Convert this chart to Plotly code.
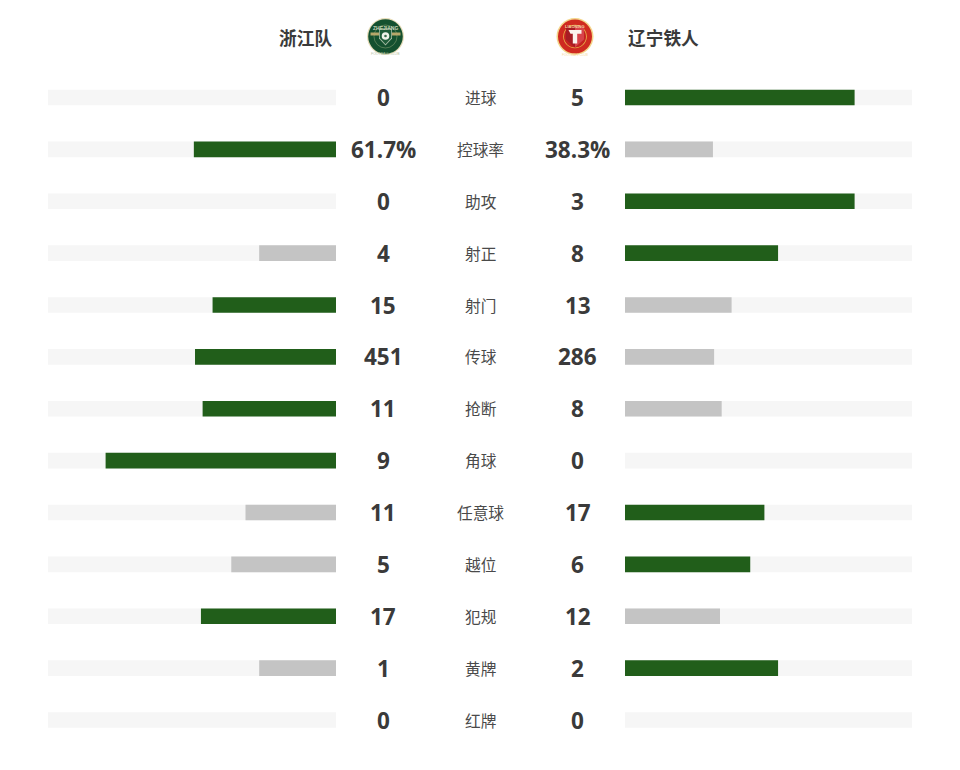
import plotly.graph_objects as go

# Match statistics
stat_names = ["进球", "控球率", "助攻", "射正", "射门", "传球", "抢断", "角球", "任意球", "越位", "犯规", "黄牌", "红牌"]
home_values = [0, 61.7, 0, 4, 15, 451, 11, 9, 11, 5, 17, 1, 0]
away_values = [5, 38.3, 3, 8, 13, 286, 8, 0, 17, 6, 12, 2, 0]
home_labels = ["0", "61.7%", "0", "4", "15", "451", "11", "9", "11", "5", "17", "1", "0"]
away_labels = ["5", "38.3%", "3", "8", "13", "286", "8", "0", "17", "6", "12", "2", "0"]
home_team = "浙江队"
away_team = "辽宁铁人"

GREEN = "#215e1a"
GREY = "#c4c4c4"
TRACK = "#f6f6f6"
INK = "#3a3a3a"
W, H = 960, 770
SHARE_AXIS_MAX = 1.25  # a 100% share fills four fifths of the track


def share(a, b):
    return a / (a + b) if a + b else 0


home_share = [share(a, b) for a, b in zip(home_values, away_values)]
away_share = [share(b, a) for a, b in zip(home_values, away_values)]
home_colors = [GREEN if a > b else GREY for a, b in zip(home_values, away_values)]
away_colors = [GREEN if b > a else GREY for a, b in zip(home_values, away_values)]
rows = list(range(len(stat_names)))

fig = go.Figure()
for axis, shares, colors in (("x", home_share, home_colors), ("x2", away_share, away_colors)):
    fig.add_bar(x=[SHARE_AXIS_MAX] * len(rows), y=rows, orientation="h", xaxis=axis, yaxis="y",
                marker=dict(color=TRACK, line_width=0), width=0.3, hoverinfo="skip", showlegend=False)
    fig.add_bar(x=shares, y=rows, orientation="h", xaxis=axis, yaxis="y",
                marker=dict(color=colors, line_width=0), width=0.3, showlegend=False)


def px(x):
    return x / W


def py(y):
    return 1 - y / H


annotations = []


def label(x, y, text, size, color=INK, weight="normal", family="Noto Sans CJK SC", anchor="center", lift=0):
    annotations.append(dict(x=px(x), y=y, xref="paper", yref="y", text=text, showarrow=False,
                            xanchor=anchor, yanchor="middle", yshift=lift,
                            font=dict(size=size, color=color, family=family, weight=weight)))


NUMBER_FONT = "Open Sans"
for i in rows:
    label(383.0, i, home_labels[i], 22.5, weight=700, family=NUMBER_FONT)
    label(577.5, i, away_labels[i], 22.5, weight=700, family=NUMBER_FONT)
    label(480.5, i, stat_names[i], 15.7, color="#4a4a4a")

# Team names sit above the first row, on the same row scale
HEADER_ROW = (37.5 - 97.5) / 51.875
label(334, HEADER_ROW, home_team, 17.7, weight=700, anchor="right", lift=1)
label(626, HEADER_ROW, away_team, 17.7, weight=700, anchor="left", lift=1)

shapes = []


def disc(cx, cy, r, fill, line=None, lw=0):
    shapes.append(dict(type="circle", xref="paper", yref="paper", x0=px(cx - r), x1=px(cx + r),
                       y0=py(cy - r), y1=py(cy + r), fillcolor=fill,
                       line=dict(color=line or fill, width=lw)))


def poly(points, fill):
    path = "M" + "L".join(f"{px(x):.5f},{py(y):.5f}" for x, y in points) + "Z"
    shapes.append(dict(type="path", xref="paper", yref="paper", path=path, fillcolor=fill, line_width=0))


# Zhejiang crest
cx, cy = 385.5, 36.5
disc(cx, cy, 18.5, "#e6dcb8")
disc(cx, cy, 17.3, "#14502f")
disc(cx, cy, 11.5, "#14502f", "#7f9a6e", 0.6)
poly([(cx - 15, cy - 4), (cx - 6, cy - 4), (cx - 6, cy - 1), (cx - 15, cy - 1)], "#b7a76a")
poly([(cx + 6, cy - 4), (cx + 15, cy - 4), (cx + 15, cy - 1), (cx + 6, cy - 1)], "#b7a76a")
poly([(cx - 6.5, cy - 8), (cx + 6.5, cy - 8), (cx + 6.5, cy + 2), (cx, cy + 9), (cx - 6.5, cy + 2)], "#a9bda6")
poly([(cx - 5.7, cy - 7), (cx + 5.7, cy - 7), (cx + 5.7, cy + 1.5), (cx, cy + 7.8), (cx - 5.7, cy + 1.5)], "#1f5c3a")
disc(cx, cy - 0.5, 3.8, "#eef2ea")
disc(cx, cy - 0.5, 1.3, "#3b6b4d")
annotations.append(dict(x=px(cx), y=py(cy - 13.5), xref="paper", yref="paper", text="ZHEJIANG", showarrow=False,
                        font=dict(size=5, color="#c9d4b8", family="Liberation Sans", weight=700)))
annotations.append(dict(x=px(cx), y=py(cy + 13.5), xref="paper", yref="paper", text="FOOTBALL CLUB", showarrow=False,
                        font=dict(size=3.5, color="#b9c7a8", family="Liberation Sans")))

# Liaoning crest
cx, cy = 575.0, 36.5
disc(cx, cy, 18.5, "#f3d58a")
disc(cx, cy, 17.0, "#cf2a20")
disc(cx, cy, 11.8, "#e8b34a")
disc(cx, cy, 11.0, "#c5221f")
poly([(cx - 9, cy - 10), (cx + 9, cy - 10), (cx + 9, cy + 3), (cx, cy + 11), (cx - 9, cy + 3)], "#a61c24")
poly([(cx, cy - 10), (cx + 9, cy - 10), (cx + 9, cy + 3), (cx, cy + 11)], "#d8434a")
poly([(cx - 6.5, cy - 6.5), (cx + 6.5, cy - 6.5), (cx + 6.5, cy - 2.8), (cx + 2.2, cy - 2.8),
      (cx + 2.2, cy + 7), (cx - 2.2, cy + 7), (cx - 2.2, cy - 2.8), (cx - 4.5, cy - 2.8)], "#fbf3ee")
annotations.append(dict(x=px(cx), y=py(cy - 14.3), xref="paper", yref="paper", text="LIAONING", showarrow=False,
                        font=dict(size=4, color="#f6d9a0", family="Liberation Sans", weight=700)))
annotations.append(dict(x=px(cx), y=py(cy + 14.3), xref="paper", yref="paper", text="FOOTBALL CLUB", showarrow=False,
                        font=dict(size=3.2, color="#f6d9a0", family="Liberation Sans")))

hidden = dict(visible=False, fixedrange=True)
fig.update_layout(
    width=W, height=H, margin=dict(l=0, r=0, t=0, b=0, pad=0),
    paper_bgcolor="white", plot_bgcolor="white", barmode="overlay",
    xaxis=dict(domain=[px(48), px(336)], range=[SHARE_AXIS_MAX, 0], **hidden),
    xaxis2=dict(domain=[px(625), px(912)], range=[0, SHARE_AXIS_MAX], anchor="y", **hidden),
    # Row 0 is centred at 97.5 px and rows are 51.875 px apart
    yaxis=dict(domain=[0, 1], range=[(770 - 97.5) / 51.875, -97.5 / 51.875], **hidden),
    annotations=annotations, shapes=shapes,
)
fig.write_html("out.html", config=dict(displayModeBar=False))
